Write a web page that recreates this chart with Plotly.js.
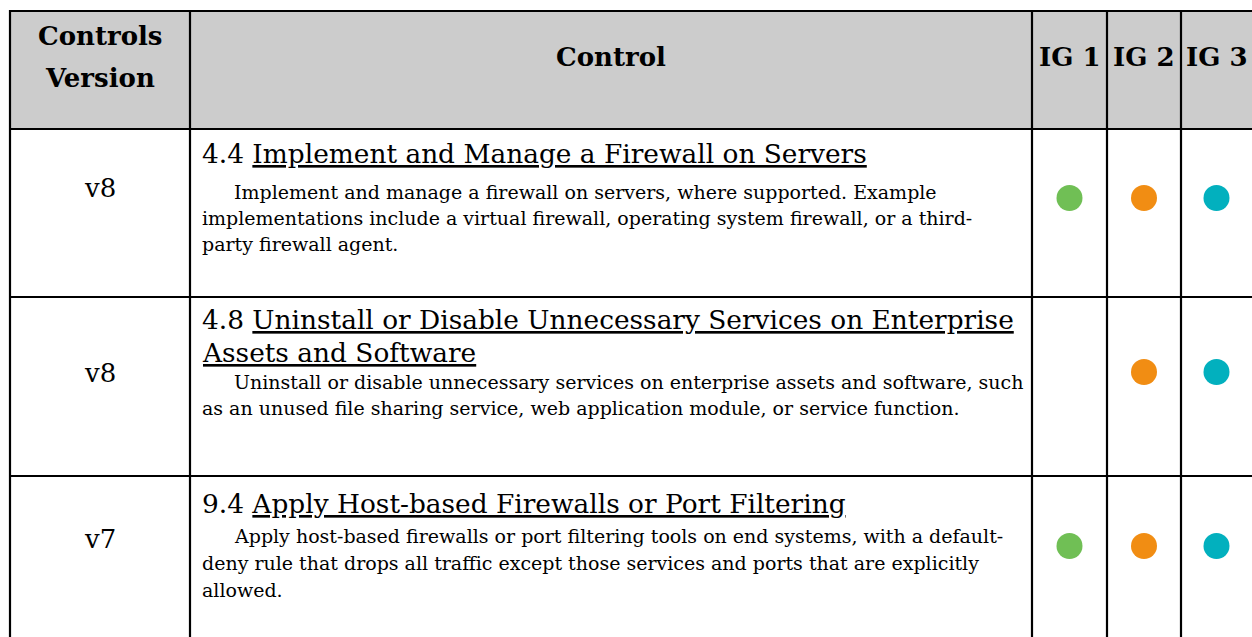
<!DOCTYPE html>
<html>
<head>
<meta charset="utf-8">
<script src="https://cdn.plot.ly/plotly-3.0.1.min.js"></script>
<style>html,body{margin:0;padding:0;background:#fff;}#chart{width:1252px;height:637px;}</style>
</head>
<body>
<div id="chart"></div>
<script>
// ---- data ----
const headers = ['Controls<br>Version', 'Control', 'IG 1', 'IG 2', 'IG 3'];
const versions = ['v8', 'v8', 'v7'];
const controlIds = ['4.4', '4.8', '9.4'];
const controlTitles = [
  ['Implement and Manage a Firewall on Servers'],
  ['Uninstall or Disable Unnecessary Services on Enterprise', 'Assets and Software'],
  ['Apply Host-based Firewalls or Port Filtering']
];
const descriptions = [
  ['Implement and manage a firewall on servers, where supported. Example',
   'implementations include a virtual firewall, operating system firewall, or a third-',
   'party firewall agent.'],
  ['Uninstall or disable unnecessary services on enterprise assets and software, such',
   'as an unused file sharing service, web application module, or service function.'],
  ['Apply host-based firewalls or port filtering tools on end systems, with a default-',
   'deny rule that drops all traffic except those services and ports that are explicitly',
   'allowed.']
];
const ig1 = [true, false, true];
const ig2 = [true, true, true];
const ig3 = [true, true, true];
const igColors = ['#70BF55', '#F18D13', '#02B0BE'];

// ---- layout geometry ----
const W = 1252, H = 637;
const colX = [10, 190, 1032, 1107, 1181, 1260];
const rowY = [11, 129, 297, 476, 660];
const FONT = 'DejaVu Serif, serif';
const fHead = 26, fTitle = 26.4, fDesc = 19, fVer = 26;
const titleBase = [[163], [329, 362], [513]];
const descBase = [[199, 225, 251], [389, 415], [543, 570, 597]];
const verBase = [197, 382, 548];
const dotY = [198, 372, 546];
const textLeft = 201, indent = 32;

const shapes = [];
// header background
shapes.push({type:'rect', xref:'x', yref:'y', x0:colX[0], x1:W+10, y0:rowY[0], y1:rowY[1],
  fillcolor:'#CCCCCC', line:{width:0}, layer:'below'});
// horizontal lines
for (let i = 0; i < 4; i++) {
  shapes.push({type:'line', xref:'x', yref:'y', x0:colX[0]-1, x1:W+10, y0:rowY[i], y1:rowY[i],
    line:{color:'#000', width:2.2}});
}
// vertical lines
for (let j = 0; j < 5; j++) {
  shapes.push({type:'line', xref:'x', yref:'y', x0:colX[j], x1:colX[j], y0:rowY[0]-1, y1:H+10,
    line:{color:'#000', width:2.2}});
}

const ann = [];
function addText(txt, x, baseline, size, anchor, bold) {
  ann.push({text: bold ? '<b>' + txt + '</b>' : txt, x: x, y: baseline - size * 0.36,
    xref:'x', yref:'y', xanchor: anchor, yanchor:'middle', showarrow:false, borderpad:0,
    font:{family:FONT, size:size, color:'#000'}});
}
// headers
const hdrLines = headers[0].split('<br>');
addText(hdrLines[0], (colX[0]+colX[1])/2, 45, fHead, 'center', true);
addText(hdrLines[1], (colX[0]+colX[1])/2, 87, fHead, 'center', true);
addText(headers[1], (colX[1]+colX[2])/2, 66, fHead, 'center', true);
for (let k = 0; k < 3; k++) addText(headers[2+k], (colX[2+k]+colX[3+k])/2 + (k===2?-4:0), 66, fHead, 'center', true);

const U = s => '<span style="text-decoration:underline">' + s + '</span>';
for (let r = 0; r < versions.length; r++) {
  addText(versions[r], (colX[0]+colX[1])/2, verBase[r], fVer, 'center', false);
  controlTitles[r].forEach((t, i) => {
    const txt = (i === 0 ? controlIds[r] + ' ' : '') + U(t);
    addText(txt, textLeft, titleBase[r][i], fTitle, 'left', false);
  });
  descriptions[r].forEach((t, i) => {
    addText(t, textLeft + (i === 0 ? indent : 0), descBase[r][i], fDesc, 'left', false);
  });
}

// dots
const flags = [ig1, ig2, ig3];
const traces = flags.map((f, k) => {
  const xs = [], ys = [];
  f.forEach((on, r) => { if (on) { xs.push((colX[2+k]+colX[3+k])/2 + (k===2?-4:0)); ys.push(dotY[r]); } });
  return {type:'scatter', mode:'markers', x:xs, y:ys, hoverinfo:'skip',
    marker:{size:26, color:igColors[k], line:{width:0}}, showlegend:false};
});

Plotly.newPlot('chart', traces, {
  width:W, height:H, margin:{l:0, r:0, t:0, b:0},
  paper_bgcolor:'#fff', plot_bgcolor:'#fff',
  xaxis:{range:[0, W], visible:false, fixedrange:true},
  yaxis:{range:[H, 0], visible:false, fixedrange:true},
  shapes: shapes, annotations: ann, showlegend:false
}, {displayModeBar:false, staticPlot:true});
</script>
</body>
</html>
